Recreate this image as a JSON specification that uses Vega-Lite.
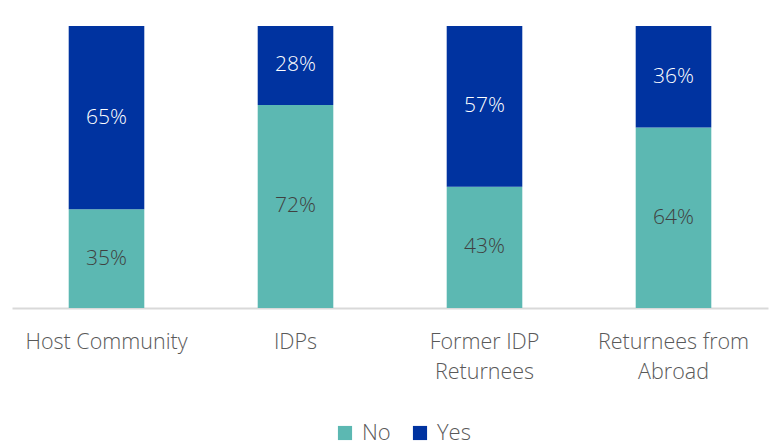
{
  "$schema": "https://vega.github.io/schema/vega-lite/v6.json",
  "width": 756,
  "height": 282,
  "autosize": {"type": "none"},
  "padding": {"left": 12, "top": 26, "right": 10, "bottom": 139},
  "background": "white",
  "config": {"view": {"stroke": null}, "font": "Open Sans"},
  "data": {"values": [
    {"group": "Host Community", "answer": "No", "value": 0.35},
    {"group": "Host Community", "answer": "Yes", "value": 0.65},
    {"group": "IDPs", "answer": "No", "value": 0.72},
    {"group": "IDPs", "answer": "Yes", "value": 0.28},
    {"group": "Former IDP Returnees", "answer": "No", "value": 0.43},
    {"group": "Former IDP Returnees", "answer": "Yes", "value": 0.57},
    {"group": "Returnees from Abroad", "answer": "No", "value": 0.64},
    {"group": "Returnees from Abroad", "answer": "Yes", "value": 0.36}
  ]},
  "transform": [
    {"stack": "value", "groupby": ["group"], "sort": [{"field": "answer", "order": "ascending"}], "as": ["v0", "v1"]},
    {"calculate": "(datum.v0 + datum.v1) / 2", "as": "mid"}
  ],
  "encoding": {
    "x": {
      "field": "group", "type": "nominal", "sort": null,
      "scale": {"paddingInner": 0.6, "paddingOuter": 0.3},
      "axis": {
        "title": null, "ticks": false, "domainColor": "#d9d9d9", "domainWidth": 2,
        "labelAngle": 0, "labelFontSize": 21.5, "labelColor": "#595959", "labelPadding": 34,
        "labelLineHeight": 30, "labelFont": "Open Sans", "labelFontWeight": 300, "labelBaseline": "middle",
        "labelExpr": "datum.value == 'Former IDP Returnees' ? ['Former IDP', 'Returnees'] : datum.value == 'Returnees from Abroad' ? ['Returnees from', 'Abroad'] : datum.value"
      }
    }
  },
  "layer": [
    {
      "mark": {"type": "bar"},
      "encoding": {
        "y": {"field": "v0", "type": "quantitative", "scale": {"domain": [0, 1]}, "axis": null},
        "y2": {"field": "v1"},
        "color": {
          "field": "answer", "type": "nominal",
          "scale": {"domain": ["No", "Yes"], "range": ["#5cb8b2", "#0033a0"]},
          "legend": {
            "title": null, "orient": "none", "direction": "horizontal",
            "legendX": 322, "legendY": 396,
            "symbolType": "square", "symbolSize": 200, "symbolStrokeWidth": 0,
            "labelFontSize": 22, "labelColor": "#595959", "labelFont": "Open Sans", "labelFontWeight": 300,
            "columnPadding": 18, "labelOffset": 6
          }
        }
      }
    },
    {
      "mark": {"type": "text", "fontSize": 21, "baseline": "middle", "font": "Open Sans", "fontWeight": 300},
      "encoding": {
        "y": {"field": "mid", "type": "quantitative"},
        "text": {"field": "value", "type": "quantitative", "format": ".0%"},
        "color": {
          "condition": {"test": "datum.answer == 'Yes'", "value": "#ffffff"},
          "value": "#404040"
        }
      }
    }
  ]
}
